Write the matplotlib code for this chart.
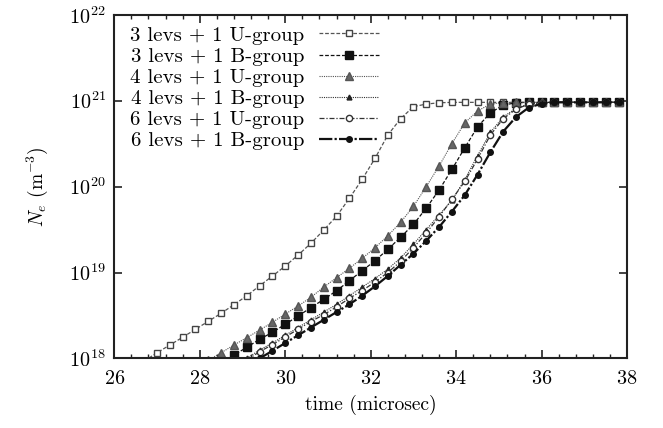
import numpy as np
import matplotlib
matplotlib.use("Agg")
import matplotlib.pyplot as plt
from matplotlib.ticker import MultipleLocator, LogLocator, NullLocator

plt.rcParams["font.family"] = "serif"
plt.rcParams["font.serif"] = ["cmr10", "DejaVu Serif"]
plt.rcParams["mathtext.fontset"] = "cm"
plt.rcParams["axes.formatter.use_mathtext"] = True

# time grid (microsec), common to all runs
t_3U = [26.7, 27.0, 27.3, 27.6, 27.9, 28.2, 28.5, 28.8, 29.1, 29.4, 29.7, 30.0,
        30.3, 30.6, 30.9, 31.2, 31.5, 31.8, 32.1, 32.4, 32.7, 33.0, 33.3, 33.6,
        33.9, 34.2, 34.5, 34.8, 35.1, 35.4, 35.7, 36.0, 36.3, 36.6, 36.9, 37.2,
        37.5, 37.8]
# log10(Ne)
log_3U = [17.97, 18.067, 18.157, 18.247, 18.34, 18.433, 18.526, 18.626, 18.73,
          18.846, 18.959, 19.076, 19.203, 19.34, 19.494, 19.655, 19.863, 20.084,
          20.328, 20.60, 20.79, 20.93, 20.96, 20.975, 20.98, 20.98, 20.98, 20.98,
          20.98, 20.98, 20.98, 20.98, 20.98, 20.98, 20.98, 20.98, 20.98, 20.98]

t_4U = t_3U[5:]
log_4U = [17.98, 18.067, 18.157, 18.242, 18.331, 18.421, 18.517, 18.61, 18.712,
          18.83, 18.94, 19.049, 19.165, 19.288, 19.428, 19.585, 19.77, 20.00,
          20.24, 20.50, 20.74, 20.88, 20.96, 20.975, 20.98, 20.98, 20.98, 20.98,
          20.98, 20.98, 20.98, 20.98, 20.98]

t_3B = t_3U[6:]
log_3B = [17.96, 18.04, 18.13, 18.223, 18.305, 18.398, 18.494, 18.591, 18.688,
          18.787, 18.905, 19.021, 19.137, 19.27, 19.41, 19.56, 19.75, 19.96,
          20.20, 20.45, 20.695, 20.858, 20.948, 20.975, 20.98, 20.98, 20.98,
          20.98, 20.98, 20.98, 20.98, 20.98]

t_4B = t_3U[8:]
log_4B = [18.00, 18.10, 18.18, 18.27, 18.36, 18.45, 18.54, 18.63, 18.73, 18.83,
          18.93, 19.04, 19.17, 19.33, 19.50, 19.67, 19.84, 20.08, 20.36, 20.63,
          20.81, 20.91, 20.96, 20.975, 20.98, 20.98, 20.98, 20.98, 20.98, 20.98]

t_6U = t_3U[8:]
log_6U = [17.98, 18.08, 18.16, 18.25, 18.34, 18.43, 18.51, 18.60, 18.70, 18.79,
          18.89, 19.00, 19.13, 19.29, 19.46, 19.65, 19.85, 20.06, 20.32, 20.60,
          20.79, 20.90, 20.96, 20.975, 20.98, 20.98, 20.98, 20.98, 20.98, 20.98]

t_6B = t_3U[9:]
log_6B = [18.00, 18.09, 18.18, 18.27, 18.36, 18.45, 18.54, 18.63, 18.73, 18.84,
          18.96, 19.09, 19.22, 19.37, 19.53, 19.71, 19.90, 20.14, 20.40, 20.64,
          20.81, 20.92, 20.965, 20.98, 20.98, 20.98, 20.98, 20.98, 20.98]

fig = plt.figure(figsize=(6.63, 4.28), dpi=100)
ax = fig.add_axes([0.1724, 0.1624, 0.7735, 0.8033])

ax.plot(t_3U, 10 ** np.array(log_3U), ls=(0, (3, 1.5)), lw=0.9, color="#555555",
        marker="s", ms=4.5, mfc="white", mec="#444444", mew=1.0,
        label="3 levs + 1 U-group")
ax.plot(t_3B, 10 ** np.array(log_3B), ls=(0, (3, 1.5)), lw=0.9, color="#111111",
        marker="s", ms=5.5, mfc="#111111", mec="#111111",
        label="3 levs + 1 B-group")
ax.plot(t_4U, 10 ** np.array(log_4U), ls=(0, (1, 1)), lw=0.8, color="#555555",
        marker="^", ms=5.5, mfc="#666666", mec="#555555",
        label="4 levs + 1 U-group")
ax.plot(t_4B, 10 ** np.array(log_4B), ls=(0, (1, 1)), lw=0.8, color="#333333",
        marker="^", ms=3.5, mfc="#222222", mec="#222222",
        label="4 levs + 1 B-group")
ax.plot(t_6U, 10 ** np.array(log_6U), ls=(0, (4, 1.5, 1, 1.5)), lw=0.9,
        color="#333333", marker="o", ms=4.5, mfc="white", mec="#333333", mew=1.0,
        label="6 levs + 1 U-group")
ax.plot(t_6B, 10 ** np.array(log_6B), ls=(0, (6, 1, 1, 1)), lw=1.6,
        color="#111111", marker="o", ms=4, mfc="#111111", mec="#111111",
        label="6 levs + 1 B-group")

ax.set_yscale("log")
ax.set_xlim(26, 38)
ax.set_ylim(1e18, 1e22)
ax.xaxis.set_major_locator(MultipleLocator(2))
ax.xaxis.set_minor_locator(MultipleLocator(0.4))
ax.yaxis.set_major_locator(LogLocator(base=10, numticks=10))
ax.yaxis.set_minor_locator(NullLocator())
ax.tick_params(which="both", direction="in", top=True, right=True,
               labelsize=14.5, color="#222222")
ax.tick_params(which="major", length=6, width=1.2)
ax.tick_params(which="minor", length=3, width=1.0)
ax.tick_params(axis="x", pad=8)
ax.tick_params(axis="y", pad=6)
for s in ax.spines.values():
    s.set_linewidth(1.5)
    s.set_color("#222222")

ax.set_xlabel("time (microsec)", fontsize=14, labelpad=5)
ax.set_ylabel(r"$N_e$ (m$^{-3}$)", fontsize=14, labelpad=14)

ax.legend(loc="upper left", frameon=False, markerfirst=False, fontsize=15,
          handlelength=2.9, labelspacing=0.12, handletextpad=0.7,
          borderaxespad=0.15, bbox_to_anchor=(0.008, 1.0))

fig.savefig("out.png", dpi=100)
